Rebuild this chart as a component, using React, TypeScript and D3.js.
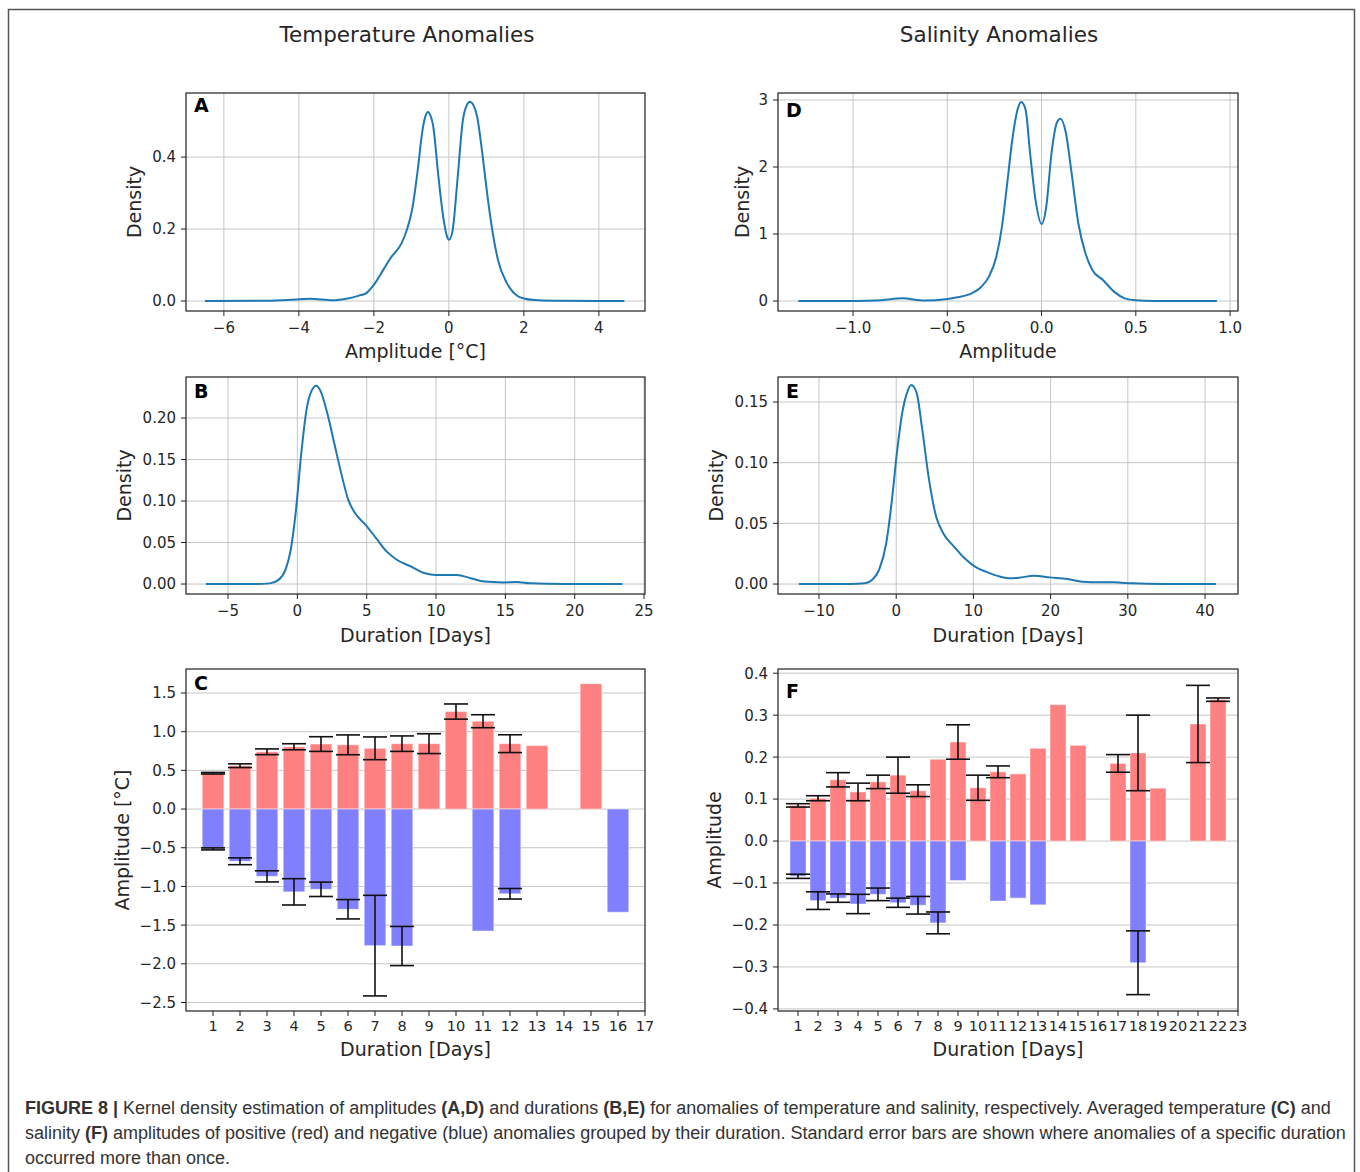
import * as d3 from "d3";

const PLOT_FONT = "DejaVu Sans, sans-serif";
const KDE_BLUE = "#1f77b4";
const GRID = "#c6c6c6";
const INK = "#262626";
const POS_FILL = "#ff8080";
const NEG_FILL = "#8080ff";

// A: KDE of temperature anomaly amplitudes
const tempAmpX = [-6.5, -5.0, -4.3, -3.7, -3.1, -2.7, -2.4, -2.2, -2.0, -1.73, -1.55, -1.26, -1.12, -0.98, -0.84, -0.7, -0.62, -0.56, -0.49, -0.42, -0.28, -0.14, -0.06, 0.0, 0.09, 0.23, 0.37, 0.48, 0.56, 0.65, 0.75, 0.89, 1.03, 1.17, 1.31, 1.55, 1.83, 2.0, 2.4, 3.0, 4.0, 4.68];
const tempAmpDensity = [0, 0.0005, 0.003, 0.006, 0.002, 0.007, 0.015, 0.022, 0.045, 0.09, 0.12, 0.161, 0.198, 0.254, 0.356, 0.477, 0.515, 0.525, 0.515, 0.487, 0.347, 0.226, 0.183, 0.17, 0.19, 0.338, 0.5, 0.545, 0.554, 0.545, 0.514, 0.412, 0.291, 0.189, 0.114, 0.049, 0.014, 0.007, 0.002, 0.0005, 0, 0];

// B: KDE of temperature anomaly durations
const tempDurX = [-6.6, -3.0, -2.0, -1.36, -0.86, -0.48, -0.1, 0.28, 0.65, 1.03, 1.36, 1.66, 2.17, 2.67, 3.17, 3.68, 4.18, 4.94, 5.69, 6.45, 7.2, 8.21, 9.2, 10.0, 11.5, 12.5, 13.5, 14.8, 15.8, 16.8, 19.3, 23.45];
const tempDurDensity = [0, 0.0001, 0.0008, 0.005, 0.017, 0.041, 0.089, 0.157, 0.209, 0.233, 0.239, 0.233, 0.205, 0.169, 0.133, 0.101, 0.085, 0.071, 0.055, 0.039, 0.029, 0.021, 0.013, 0.011, 0.011, 0.007, 0.003, 0.002, 0.0024, 0.001, 0, 0];

// D: KDE of salinity anomaly amplitudes
const salAmpX = [-1.29, -1.0, -0.85, -0.74, -0.62, -0.5, -0.42, -0.37, -0.32, -0.28, -0.24, -0.21, -0.184, -0.155, -0.127, -0.108, -0.085, -0.061, -0.032, 0.0, 0.025, 0.053, 0.081, 0.1, 0.129, 0.157, 0.195, 0.233, 0.27, 0.327, 0.384, 0.441, 0.5, 0.6, 0.93];
const salAmpDensity = [0, 0.002, 0.012, 0.04, 0.006, 0.03, 0.07, 0.115, 0.21, 0.36, 0.66, 1.11, 1.71, 2.41, 2.86, 2.97, 2.86, 2.21, 1.51, 1.15, 1.41, 2.21, 2.66, 2.72, 2.51, 1.96, 1.16, 0.71, 0.46, 0.31, 0.14, 0.04, 0.01, 0.001, 0];

// E: KDE of salinity anomaly durations
const salDurX = [-12.6, -6, -4.06, -3.14, -2.22, -1.29, -0.6, 0.09, 0.78, 1.48, 1.94, 2.63, 3.32, 4.25, 5.17, 6.09, 7.48, 8.86, 10.2, 11.6, 13.5, 14.8, 16.2, 17.8, 19.9, 22.2, 24.1, 26.4, 28.2, 30.5, 34.7, 41.4];
const salDurDensity = [0, 0, 0.0006, 0.0033, 0.0116, 0.0336, 0.0667, 0.108, 0.141, 0.159, 0.164, 0.158, 0.13, 0.086, 0.0556, 0.0419, 0.0309, 0.0212, 0.0143, 0.0102, 0.006, 0.0047, 0.0055, 0.0069, 0.0055, 0.0041, 0.0019, 0.0014, 0.0014, 0.0006, 0, 0];

// C: mean temperature amplitude by duration (null = no anomaly of that duration)
const tempDays = [1, 2, 3, 4, 5, 6, 7, 8, 9, 10, 11, 12, 13, 14, 15, 16];
const tempPos = [0.463, 0.56, 0.74, 0.805, 0.84, 0.83, 0.785, 0.845, 0.845, 1.26, 1.135, 0.845, 0.82, null, 1.62, null];
const tempPosErr = [0.01, 0.024, 0.037, 0.039, 0.095, 0.128, 0.147, 0.1, 0.128, 0.098, 0.084, 0.115, null, null, null, null];
const tempNeg = [-0.515, -0.675, -0.87, -1.07, -1.037, -1.295, -1.765, -1.77, null, null, -1.576, -1.095, null, null, null, -1.333];
const tempNegErr = [0.013, 0.044, 0.072, 0.17, 0.093, 0.125, 0.65, 0.253, null, null, null, 0.068, null, null, null, null];

// F: mean salinity amplitude by duration
const salDays = [1, 2, 3, 4, 5, 6, 7, 8, 9, 10, 11, 12, 13, 14, 15, 16, 17, 18, 19, 20, 21, 22];
const salPos = [0.085, 0.102, 0.146, 0.117, 0.141, 0.157, 0.12, 0.195, 0.236, 0.127, 0.165, 0.16, 0.221, 0.325, 0.228, null, 0.185, 0.21, 0.126, null, 0.279, 0.337];
const salPosErr = [0.004, 0.006, 0.017, 0.021, 0.016, 0.043, 0.014, null, 0.041, 0.03, 0.014, null, null, null, null, null, 0.021, 0.09, null, null, 0.092, 0.004];
const salNeg = [-0.084, -0.142, -0.136, -0.15, -0.127, -0.147, -0.153, -0.195, -0.094, null, -0.143, -0.136, -0.152, null, null, null, null, -0.29, null, null, null, null];
const salNegErr = [0.005, 0.021, 0.01, 0.023, 0.015, 0.011, 0.021, 0.026, null, null, null, null, null, null, null, null, null, 0.076, null, null, null, null];

// tick values
const tempAmpTicksX = [-6, -4, -2, 0, 2, 4];
const tempAmpTicksY = [0, 0.2, 0.4];
const tempDurTicksX = [-5, 0, 5, 10, 15, 20, 25];
const tempDurTicksY = [0, 0.05, 0.1, 0.15, 0.2];
const salAmpTicksX = [-1, -0.5, 0, 0.5, 1];
const salAmpTicksY = [0, 1, 2, 3];
const salDurTicksX = [-10, 0, 10, 20, 30, 40];
const salDurTicksY = [0, 0.05, 0.1, 0.15];
const tempBarTicksY = [1.5, 1, 0.5, 0, -0.5, -1, -1.5, -2, -2.5];
const salBarTicksX = [1, 2, 3, 4, 5, 6, 7, 8, 9, 10, 11, 12, 13, 14, 15, 16, 17, 18, 19, 20, 21, 22, 23];
const salBarTicksY = [0.4, 0.3, 0.2, 0.1, 0, -0.1, -0.2, -0.3, -0.4];
const tempBarTicksX = [1, 2, 3, 4, 5, 6, 7, 8, 9, 10, 11, 12, 13, 14, 15, 16, 17];

type Box = { left: number; right: number; top: number; bottom: number };

function Axes(props: any) {
  const { box, x, y, xTicks, yTicks, xFmt, yFmt, xGrid, tickFont, xLabel, yLabel, xLabelY, yLabelX, letter, letterY, children } = props;
  const b: Box = box;
  return (
    <g fontFamily={PLOT_FONT} fill={INK}>
      {xGrid && xTicks.map((t: number) => (
        <line key={"gx" + t} x1={x(t)} x2={x(t)} y1={b.top} y2={b.bottom} stroke={GRID} strokeWidth={1} />
      ))}
      {yTicks.map((t: number) => (
        <line key={"gy" + t} x1={b.left} x2={b.right} y1={y(t)} y2={y(t)} stroke={GRID} strokeWidth={1} />
      ))}
      {children}
      <rect x={b.left} y={b.top} width={b.right - b.left} height={b.bottom - b.top} fill="none" stroke="#1f1f1f" strokeWidth={1.2} />
      {xTicks.map((t: number) => (
        <g key={"tx" + t}>
          <line x1={x(t)} x2={x(t)} y1={b.bottom} y2={b.bottom + 5} stroke="#1f1f1f" strokeWidth={1} />
          <text x={x(t)} y={b.bottom + (tickFont < 15 ? 20 : 22)} textAnchor="middle" fontSize={tickFont}>{xFmt(t)}</text>
        </g>
      ))}
      {yTicks.map((t: number) => (
        <g key={"ty" + t}>
          <line x1={b.left - 5} x2={b.left} y1={y(t)} y2={y(t)} stroke="#1f1f1f" strokeWidth={1} />
          <text x={b.left - 10} y={y(t)} dy="0.36em" textAnchor="end" fontSize={15}>{yFmt(t)}</text>
        </g>
      ))}
      <text x={(b.left + b.right) / 2} y={xLabelY} textAnchor="middle" fontSize={19}>{xLabel}</text>
      <text transform={`translate(${yLabelX},${(b.top + b.bottom) / 2}) rotate(-90)`} dy="0.36em" textAnchor="middle" fontSize={19}>{yLabel}</text>
      <text x={b.left + 8} y={letterY} fontSize={19} fontWeight="bold" fill="#000">{letter}</text>
    </g>
  );
}

function KdePanel(props: any) {
  const { box, xDomain, yDomain, xs, ys } = props;
  const x = d3.scaleLinear().domain(xDomain).range([box.left, box.right]);
  const y = d3.scaleLinear().domain(yDomain).range([box.bottom, box.top]);
  const pts: [number, number][] = xs.map((v: number, i: number) => [v, ys[i]]);
  const path = d3.line<[number, number]>().x((d) => x(d[0])).y((d) => y(d[1])).curve(d3.curveMonotoneX)(pts) || "";
  return (
    <Axes {...props} x={x} y={y} xGrid={true} tickFont={15}>
      <path d={path} fill="none" stroke={KDE_BLUE} strokeWidth={2} />
    </Axes>
  );
}

function BarPanel(props: any) {
  const { box, xDomain, yDomain, days, pos, posErr, neg, negErr } = props;
  const x = d3.scaleLinear().domain(xDomain).range([box.left, box.right]);
  const y = d3.scaleLinear().domain(yDomain).range([box.bottom, box.top]);
  const cap = 12;
  const bars: any[] = [];
  const errs: any[] = [];
  const addSeries = (vals: (number | null)[], errVals: (number | null)[], fill: string, key: string) => {
    vals.forEach((v, i) => {
      if (v === null) return;
      const d = days[i];
      const x0 = x(d - 0.4);
      const x1 = x(d + 0.4);
      bars.push(
        <rect key={key + d} x={x0} width={x1 - x0} y={Math.min(y(v), y(0))} height={Math.abs(y(v) - y(0))} fill={fill} stroke="#ffffff" strokeOpacity={0.45} strokeWidth={1} />
      );
      const e = errVals[i];
      if (e === null) return;
      const cx = x(d);
      const yHi = y(v + e);
      const yLo = y(v - e);
      errs.push(
        <g key={key + "e" + d} stroke="#111" strokeWidth={1.6}>
          <line x1={cx} x2={cx} y1={yHi} y2={yLo} />
          <line x1={cx - cap} x2={cx + cap} y1={yHi} y2={yHi} />
          <line x1={cx - cap} x2={cx + cap} y1={yLo} y2={yLo} />
        </g>
      );
    });
  };
  addSeries(pos, posErr, POS_FILL, "p");
  addSeries(neg, negErr, NEG_FILL, "n");
  return (
    <Axes {...props} x={x} y={y} xGrid={false} tickFont={14.5}>
      {bars}
      {errs}
    </Axes>
  );
}

const f0 = d3.format("d");
const f1 = d3.format(".1f");
const f2 = d3.format(".2f");

export default function App() {
  const colL = { left: 186, right: 645 };
  const colR = { left: 778, right: 1238 };
  const row1 = { top: 93, bottom: 311 };
  const row2 = { top: 377, bottom: 594 };
  const row3 = { top: 669, bottom: 1011 };
  return (
    <svg width={1360} height={1172} style={{ position: "absolute", left: 0, top: 0, background: "#fff" }}>
      <rect x={8.5} y={9.5} width={1346} height={1200} fill="#fff" stroke="#555" strokeWidth={1.5} />
      <text x={407} y={42} textAnchor="middle" fontFamily={PLOT_FONT} fontSize={21.5} fill={INK}>Temperature Anomalies</text>
      <text x={999} y={42} textAnchor="middle" fontFamily={PLOT_FONT} fontSize={21.5} fill={INK}>Salinity Anomalies</text>

      <KdePanel box={{ ...colL, ...row1 }} xDomain={[-7.01, 5.23]} yDomain={[-0.0278, 0.578]}
        xs={tempAmpX} ys={tempAmpDensity} xTicks={tempAmpTicksX} yTicks={tempAmpTicksY} xFmt={f0} yFmt={f1}
        xLabel="Amplitude [°C]" xLabelY={358} yLabel="Density" yLabelX={134} letter="A" letterY={112} />
      <KdePanel box={{ ...colL, ...row2 }} xDomain={[-8.03, 25.07]} yDomain={[-0.012, 0.2494]}
        xs={tempDurX} ys={tempDurDensity} xTicks={tempDurTicksX} yTicks={tempDurTicksY} xFmt={f0} yFmt={f2}
        xLabel="Duration [Days]" xLabelY={642} yLabel="Density" yLabelX={124} letter="B" letterY={398} />
      <BarPanel box={{ ...colL, ...row3 }} xDomain={[0, 17]} yDomain={[-2.61, 1.81]}
        days={tempDays} pos={tempPos} posErr={tempPosErr} neg={tempNeg} negErr={tempNegErr}
        xTicks={tempBarTicksX} yTicks={tempBarTicksY} xFmt={f0} yFmt={f1}
        xLabel="Duration [Days]" xLabelY={1056} yLabel="Amplitude [°C]" yLabelX={122} letter="C" letterY={690} />

      <KdePanel box={{ ...colR, ...row1 }} xDomain={[-1.398, 1.042]} yDomain={[-0.149, 3.104]}
        xs={salAmpX} ys={salAmpDensity} xTicks={salAmpTicksX} yTicks={salAmpTicksY} xFmt={f1} yFmt={f0}
        xLabel="Amplitude" xLabelY={358} yLabel="Density" yLabelX={742} letter="D" letterY={117} />
      <KdePanel box={{ ...colR, ...row2 }} xDomain={[-15.31, 44.27]} yDomain={[-0.0082, 0.1706]}
        xs={salDurX} ys={salDurDensity} xTicks={salDurTicksX} yTicks={salDurTicksY} xFmt={f0} yFmt={f2}
        xLabel="Duration [Days]" xLabelY={642} yLabel="Density" yLabelX={716} letter="E" letterY={398} />
      <BarPanel box={{ ...colR, ...row3 }} xDomain={[0, 23]} yDomain={[-0.405, 0.41]}
        days={salDays} pos={salPos} posErr={salPosErr} neg={salNeg} negErr={salNegErr}
        xTicks={salBarTicksX} yTicks={salBarTicksY} xFmt={f0} yFmt={f1}
        xLabel="Duration [Days]" xLabelY={1056} yLabel="Amplitude" yLabelX={714} letter="F" letterY={698} />

      <g fontFamily="Liberation Sans, Arial, sans-serif" fontSize={18} fill="#333">
        <text x={25} y={1114}>
          <tspan fontWeight="bold">FIGURE 8 | </tspan>
          <tspan>Kernel density estimation of amplitudes </tspan>
          <tspan fontWeight="bold">(A,D)</tspan>
          <tspan> and durations </tspan>
          <tspan fontWeight="bold">(B,E)</tspan>
          <tspan> for anomalies of temperature and salinity, respectively. Averaged temperature </tspan>
          <tspan fontWeight="bold">(C)</tspan>
          <tspan> and</tspan>
        </text>
        <text x={25} y={1139}>
          <tspan>salinity </tspan>
          <tspan fontWeight="bold">(F)</tspan>
          <tspan> amplitudes of positive (red) and negative (blue) anomalies grouped by their duration. Standard error bars are shown where anomalies of a specific duration</tspan>
        </text>
        <text x={25} y={1164}>occurred more than once.</text>
      </g>
    </svg>
  );
}
